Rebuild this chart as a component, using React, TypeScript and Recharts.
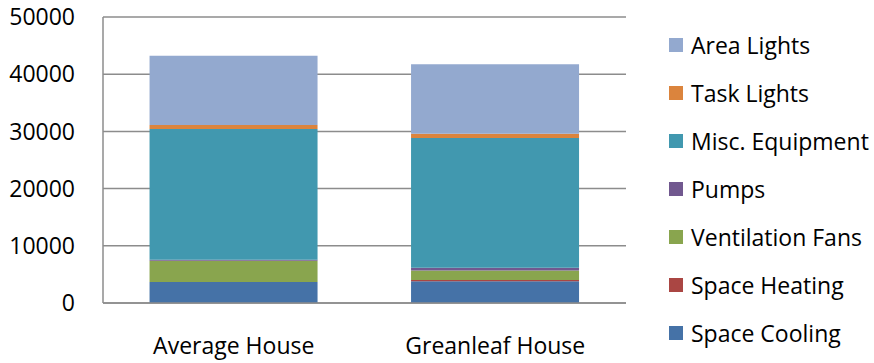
import React from 'react'
import { BarChart, Bar, XAxis, YAxis, CartesianGrid } from 'recharts'

const houses = ['Average House', 'Greanleaf House']
const spaceCooling = [3670, 3800]
const spaceHeating = [0, 230]
const ventilationFans = [3720, 1630]
const pumps = [150, 520]
const miscEquipment = [22900, 22680]
const taskLights = [700, 750]
const areaLights = [12100, 12130]
const yTicks = [0, 10000, 20000, 30000, 40000, 50000]

// stacking order, bottom to top
const series = [
    { key: 'cooling', name: 'Space Cooling', color: '#4572A7', values: spaceCooling },
    { key: 'heating', name: 'Space Heating', color: '#AA4643', values: spaceHeating },
    { key: 'fans', name: 'Ventilation Fans', color: '#89A54E', values: ventilationFans },
    { key: 'pumps', name: 'Pumps', color: '#71588F', values: pumps },
    { key: 'misc', name: 'Misc. Equipment', color: '#4198AF', values: miscEquipment },
    { key: 'task', name: 'Task Lights', color: '#DB843D', values: taskLights },
    { key: 'area', name: 'Area Lights', color: '#93A9CF', values: areaLights },
]

const data = houses.map((house, i) => {
    const row: Record<string, string | number> = { house }
    series.forEach(s => { row[s.key] = s.values[i] })
    return row
})

const font = '"Open Sans", sans-serif'
const gridColor = '#8c8c8c'

export default function App() {
    return (
        <div style={{ position: 'absolute', left: 0, top: 0, width: 874, height: 363, background: '#fff', fontFamily: font }}>
            <BarChart width={874} height={363} data={data} barCategoryGap="17.8%"
                margin={{ top: 17, right: 248, bottom: 0, left: 0 }}>
                <CartesianGrid vertical={false} stroke={gridColor} strokeWidth={1.5} />
                <XAxis dataKey="house" height={60} tickLine={false} tickSize={0} tickMargin={35}
                    axisLine={{ stroke: gridColor, strokeWidth: 1.5 }}
                    tick={{ fontSize: 23, fill: '#000', fontFamily: font }} />
                <YAxis width={103} domain={[0, 50000]} ticks={yTicks} interval={0}
                    tickLine={false} tickSize={0} tickMargin={28}
                    axisLine={{ stroke: gridColor, strokeWidth: 1.5 }}
                    tick={{ fontSize: 23, fill: '#000', fontFamily: font }} />
                {series.map(s => (
                    <Bar key={s.key} dataKey={s.key} name={s.name} stackId="a" fill={s.color} isAnimationActive={false} />
                ))}
            </BarChart>
            <div style={{ position: 'absolute', left: 669, top: 21 }}>
                {[...series].reverse().map(s => (
                    <div key={s.key} style={{ height: 48, display: 'flex', alignItems: 'center' }}>
                        <span style={{ width: 14, height: 14, background: s.color, display: 'inline-block', marginRight: 8 }} />
                        <span style={{ fontSize: 23, color: '#000', whiteSpace: 'nowrap' }}>{s.name}</span>
                    </div>
                ))}
            </div>
        </div>
    )
}
